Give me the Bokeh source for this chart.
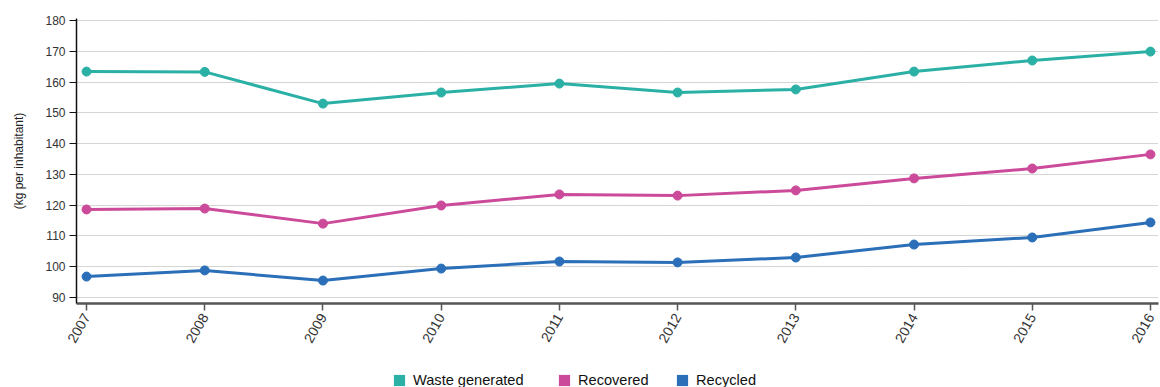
import math
from bokeh.plotting import figure
from bokeh.layouts import column
from bokeh.models import Range1d, Legend, LegendItem, FixedTicker, ColumnDataSource
from bokeh.embed import file_html
from bokeh.resources import INLINE

years = [2007, 2008, 2009, 2010, 2011, 2012, 2013, 2014, 2015, 2016]
waste_generated = [163.4, 163.3, 153.0, 156.6, 159.5, 156.6, 157.6, 163.4, 167.0, 169.9]
recovered = [118.6, 118.9, 114.0, 119.9, 123.5, 123.1, 124.8, 128.7, 131.9, 136.5]
recycled = [96.8, 98.8, 95.5, 99.4, 101.7, 101.4, 103.0, 107.2, 109.5, 114.4]
y_ticks = [90, 100, 110, 120, 130, 140, 150, 160, 170, 180]
series_names = ["Waste generated", "Recovered", "Recycled"]
colors = ["#2bb0a6", "#cc4a9a", "#2a6fb8"]
legend_x = [316, 481, 599]

FONT = "Liberation Sans"

p = figure(width=1160, height=349, output_backend="svg", toolbar_location=None,
           x_range=Range1d(2006.915, 2016.068), y_range=Range1d(88.05, 180.65),
           min_border_left=76, min_border_right=2, min_border_top=18, min_border_bottom=46)
p.outline_line_color = None
p.xgrid.grid_line_color = None
p.ygrid.grid_line_color = "#aaaaaa"
p.ygrid.grid_line_dash = "1 1"
p.ygrid.grid_line_width = 1

p.xaxis.ticker = FixedTicker(ticks=years)
p.xaxis.major_label_overrides = {y: str(y) for y in years}
p.xaxis.major_label_orientation = math.pi / 3
p.xaxis.axis_line_color = "#555555"
p.xaxis.axis_line_width = 2.5
p.xaxis.major_tick_line_color = "#555555"
p.xaxis.major_tick_line_width = 1.5
p.xaxis.major_tick_out = 7
p.xaxis.major_tick_in = 0
p.xaxis.minor_tick_line_color = None
p.xaxis.major_label_text_font = FONT
p.xaxis.major_label_text_font_size = "14px"
p.xaxis.major_label_text_color = "#333333"
p.xaxis.major_label_standoff = 4

p.yaxis.ticker = FixedTicker(ticks=y_ticks)
p.yaxis.axis_line_color = "#111111"
p.yaxis.axis_line_width = 1.5
p.yaxis.major_tick_line_color = "#111111"
p.yaxis.major_tick_out = 7
p.yaxis.major_tick_in = 0
p.yaxis.minor_tick_line_color = None
p.yaxis.major_label_text_font = FONT
p.yaxis.major_label_text_font_size = "12px"
p.yaxis.major_label_text_color = "#333333"
p.yaxis.major_label_standoff = 4
p.yaxis.axis_label = "(kg per inhabitant)"
p.yaxis.axis_label_text_font = FONT
p.yaxis.axis_label_text_font_size = "12px"
p.yaxis.axis_label_text_font_style = "normal"
p.yaxis.axis_label_text_color = "#222222"
p.yaxis.axis_label_standoff = 16

for name, vals, c in zip(series_names, [waste_generated, recovered, recycled], colors):
    src = ColumnDataSource(dict(x=years, y=vals))
    p.line("x", "y", source=src, line_color=c, line_width=3)
    p.scatter("x", "y", source=src, size=9, fill_color=c, line_color=c)

# legend strip below the chart
pl = figure(width=1160, height=38, output_backend="svg", toolbar_location=None,
            x_range=Range1d(0, 1), y_range=Range1d(0, 1),
            min_border=0, min_border_left=0, min_border_right=0, min_border_top=0, min_border_bottom=0)
pl.axis.visible = False
pl.grid.visible = False
pl.outline_line_color = None
for name, c, lx in zip(series_names, colors, legend_x):
    r = pl.quad(left=[-3], right=[-2], top=[-2], bottom=[-3], fill_color=c, line_color=None)
    lg = Legend(items=[LegendItem(label=name, renderers=[r])], orientation="horizontal",
                location=(lx, -1), glyph_width=14, glyph_height=14, label_standoff=7,
                padding=0, margin=0, border_line_color=None, background_fill_alpha=0,
                label_text_font=FONT, label_text_font_size="14.6px", label_text_color="#111111",
                label_height=14)
    pl.add_layout(lg, "center")

layout = column(p, pl, spacing=0)
open("out.html", "w").write(file_html(layout, INLINE))
